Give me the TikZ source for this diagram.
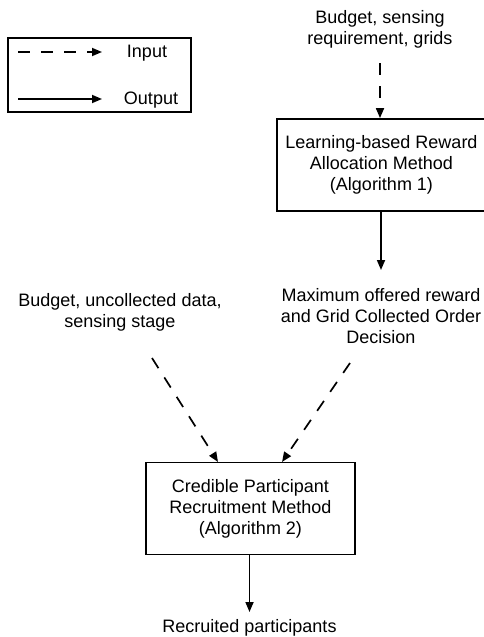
\documentclass[tikz,border=0pt]{standalone}
\usepackage{fontspec}
\setmainfont{Liberation Sans}
\usetikzlibrary{arrows.meta}
\begin{document}
\begin{tikzpicture}[x=1pt,y=-1pt,
  every node/.style={font=\fontsize{18}{21}\selectfont, inner sep=0pt, align=center},
  procbox/.style={draw, line width=1.8pt, minimum width=209pt, minimum height=92pt},
  legendbox/.style={draw, line width=1.8pt, minimum width=183pt, minimum height=74pt},
  inarrow/.style={-{Triangle[length=10pt,width=8pt]}, line width=1.7pt, dash pattern=on 12pt off 11pt},
  outarrow/.style={-{Triangle[length=10pt,width=8pt]}, line width=1.7pt},
]
\useasboundingbox (0,0) rectangle (484,637);

% legend
\node[legendbox] (legend) at (99.5,75) {};
\coordinate (lin1) at (18,52);
\coordinate (lin2) at (102,52);
\coordinate (lout1) at (18,99);
\coordinate (lout2) at (102,99);
\draw[inarrow] (lin1) -- (lin2);
\draw[outarrow] (lout1) -- (lout2);
\node[anchor=base] (intext) at (147,57) {Input};
\node[anchor=base] (outtext) at (151,104) {Output};

% top part
\node (toplabel) at (380,29) {Budget, sensing\\requirement, grids};
\coordinate (topstart) at (380,63);
\node[procbox] (alg1) at (381.5,165) {Learning-based Reward\\Allocation Method\\(Algorithm 1)};
\draw[inarrow] (topstart) -- (alg1.north -| topstart);
\coordinate (alg1end) at (381,270);
\draw[outarrow] (alg1.south -| alg1end) -- (alg1end);

% middle labels
\node (leftlabel) at (120,312) {Budget, uncollected data,\\sensing stage};
\node (rightlabel) at (381,316) {Maximum offered reward\\and Grid Collected Order\\Decision};
\coordinate (lstart) at (152,358);
\coordinate (rstart) at (350,363);

% bottom box
\node[procbox] (alg2) at (250.5,508.5) {Credible Participant\\Recruitment Method\\(Algorithm 2)};
\coordinate (lend) at (218,462);
\coordinate (rend) at (282,462);
\draw[inarrow] (lstart) -- (lend);
\draw[inarrow] (rstart) -- (rend);

\node (result) at (249.5,628) {Recruited participants};
\coordinate (alg2end) at (249.5,612);
\draw[outarrow] (alg2.south -| alg2end) -- (alg2end);
\end{tikzpicture}
\end{document}
